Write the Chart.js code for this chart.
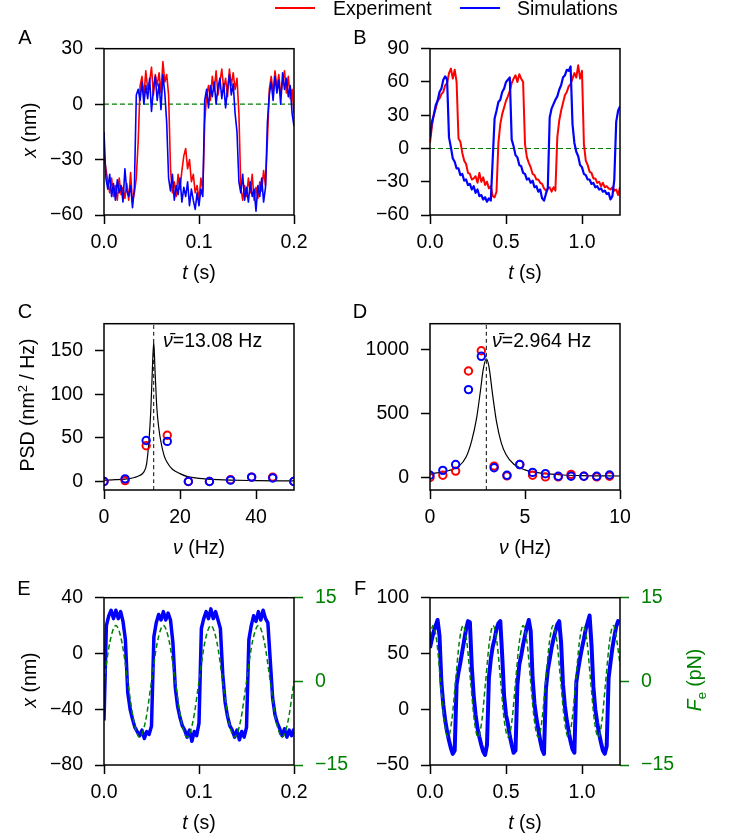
<!DOCTYPE html>
<html>
<head>
<meta charset="utf-8">
<script src="https://cdn.jsdelivr.net/npm/chart.js@4.4.1/dist/chart.umd.min.js"></script>
<style>
body { margin: 0; background: #fff; }
#page { position: relative; width: 732px; height: 840px; overflow: hidden; font-family: 'Liberation Sans', Arial, sans-serif; color: #000; }
canvas { position: absolute; }
.t { position: absolute; font-size: 19.5px; line-height: 1; white-space: nowrap; z-index: 2; }
.c { transform: translate(-50%, -50%); }
.l { transform: translate(0, -50%); }
.r { transform: translate(-50%, -50%) rotate(-90deg); }
.p { font-size: 20px; }
.g { color: #008000; }
sup, sub { font-size: 13px; line-height: 0; }
.key { position: absolute; width: 40px; height: 1.5px; }
</style>
</head>
<body>
<div id="page">
  <canvas id="A" width="354" height="240" style="left:0px;top:25px"></canvas>
  <canvas id="B" width="354" height="240" style="left:326px;top:25px"></canvas>
  <canvas id="C" width="354" height="240" style="left:0px;top:300px"></canvas>
  <canvas id="D" width="354" height="240" style="left:326px;top:300px"></canvas>
  <canvas id="E" width="354" height="241" style="left:0px;top:574px"></canvas>
  <canvas id="F" width="354" height="241" style="left:326px;top:574px"></canvas>

  <div class="key" style="left:275px;top:7px;background:#ff0000"></div>
  <div class="t l" style="left:333px;top:8.5px">Experiment</div>
  <div class="key" style="left:460px;top:7px;background:#0000ff"></div>
  <div class="t l" style="left:517px;top:8.5px">Simulations</div>

  <div class="t c p" style="left:25px;top:37px">A</div>
  <div class="t c p" style="left:360px;top:37px">B</div>
  <div class="t c p" style="left:25px;top:311px">C</div>
  <div class="t c p" style="left:360px;top:311px">D</div>
  <div class="t c p" style="left:24px;top:588px">E</div>
  <div class="t c p" style="left:360px;top:588px">F</div>

  <div class="t r" style="left:30px;top:130px"><i>x</i> (nm)</div>
  <div class="t c" style="left:199px;top:273px"><i>t</i> (s)</div>
  <div class="t c" style="left:525px;top:273px"><i>t</i> (s)</div>
  <div class="t r" style="left:28px;top:405px">PSD (nm<sup>2</sup> / Hz)</div>
  <div class="t c" style="left:199px;top:548px"><i>ν</i> (Hz)</div>
  <div class="t c" style="left:525px;top:548px"><i>ν</i> (Hz)</div>
  <div class="t r" style="left:30px;top:680px"><i>x</i> (nm)</div>
  <div class="t c" style="left:199px;top:823px"><i>t</i> (s)</div>
  <div class="t c" style="left:525px;top:823px"><i>t</i> (s)</div>
  <div class="t r g" style="left:695px;top:680px"><i>F</i><sub>e</sub> (pN)</div>

  <div class="t l" style="left:163px;top:341px"><i>ν̄</i>=13.08 Hz</div>
  <div class="t l" style="left:492px;top:341px"><i>ν̄</i>=2.964 Hz</div>
</div>
<script>
// panel A: bistable trace, sampled every 2 ms
const aStep = 0.002;
const aExp = [
  -28, -35, -42, -48, -40, -50, -44, -52, -40, -49,
  -45, -51, -43, -52, -37, -53, -48, -40, -20, 10,
  15, 4, 18, 8, 12, 20, 5, 16, 10, 17,
  6, 23, 12, 16, 5, -35, -48, -42, -50, -38,
  -46, -36, -28, -24, -35, -30, -42, -38, -48, -44,
  -52, -40, -47, -10, 5, 10, 2, 15, 7, 18,
  5, 12, 19, 8, 14, 4, 19, 10, 17, 8,
  14, -5, -45, -52, -44, -50, -40, -48, -38, -52,
  -45, -51, -42, -47, -36, -44, -20, 8, 15, 6,
  18, 9, 16, 5, 12, 18, 6, 15, 3, 8,
  -5
];
const aSim = [
  -15, -40, -46, -38, -50, -43, -52, -41, -48, -44,
  -53, -35, -47, -50, -44, -56, -45, 5, 8, 2,
  12, 0, 10, 3, 14, -4, 8, 15, 2, 11,
  -3, 16, 6, -10, -40, -47, -38, -52, -44, -49,
  -40, -53, -45, -50, -42, -55, -46, -52, -57, -48,
  -55, -46, -50, 2, 8, -2, 10, 4, 12, 0,
  9, 14, 3, 11, -2, 8, 16, 5, 11, -5,
  -15, -42, -48, -38, -52, -45, -53, -42, -50, -46,
  -58, -44, -50, -40, -53, -45, -10, 5, 12, 2,
  15, 6, 13, 0, 17, 8, 14, 4, 10, -5,
  -12
];

// panel B: relaxation oscillation, sampled every 12.5 ms
const bStep = 0.0125;
const bExp = [
  5, 20, 31, 36, 43, 45, 49, 51, 57, 59,
  68, 72, 63, 71, 60, 9, 6, -4, -11, -14,
  -22, -23, -28, -27, -25, -31, -22, -30, -26, -33,
  -30, -36, -34, -43, -44, -39, 5, 22, 31, 37,
  43, 47, 52, 59, 63, 66, 60, 67, 63, 60,
  4, -8, -13, -17, -23, -24, -28, -28, -31, -32,
  -36, -38, -36, -35, -39, -35, -38, 10, 25, 34,
  41, 48, 51, 56, 58, 63, 68, 64, 75, 63,
  70, 4, -11, -15, -21, -22, -27, -27, -31, -30,
  -34, -31, -35, -34, -36, -37, -35, -38, -37, -42,
  -35
];
const bSim = [
  10, 24, 30, 39, 43, 51, 54, 62, 65, 62,
  10, 1, -9, -12, -18, -18, -24, -23, -29, -28,
  -33, -32, -37, -34, -40, -37, -43, -42, -46, -44,
  -48, -45, -47, -10, 27, 34, 42, 44, 51, 54,
  60, 62, 64, 8, 2, -6, -8, -15, -16, -22,
  -23, -28, -27, -31, -29, -35, -34, -39, -37, -45,
  -47, -41, -36, 28, 36, 40, 44, 47, 53, 57,
  64, 66, 71, 70, 74, 22, 5, -3, -7, -15,
  -17, -23, -24, -28, -28, -32, -31, -35, -34, -37,
  -36, -39, -38, -41, -40, -46, -43, -28, 24, 34,
  38
];

// panel C: spectrum of A
const cFreq = [0, 5.55, 11.1, 16.65, 22.2, 27.75, 33.3, 38.85, 44.4, 49.95];
const cExp = [0, 1, 41, 53, 0, 0, 2, 5, 5, 0];
const cSim = [0, 3, 47, 46, 0, 0, 1.5, 5, 4, 0];
const cFitX = [0, 3, 6, 8, 9.5, 10.5, 11.2, 11.8, 12.3, 12.7, 13.08, 13.45, 13.9, 14.4, 15, 15.8, 16.6, 18, 20, 22, 25, 30, 40, 50];
const cFitY = [1.5, 2, 3, 4.5, 7, 11, 20, 45, 80, 125, 160, 125, 85, 62, 45, 30, 22, 14, 9, 5.5, 3.5, 2, 1, 0.6];
const cPeak = 13.08;

// panel D: spectrum of B
const dFreq = [0, 0.675, 1.35, 2.025, 2.7, 3.375, 4.05, 4.725, 5.4, 6.075, 6.75, 7.425, 8.1, 8.775, 9.45];
const dExp = [0, 18, 50, 830, 987, 89, 13, 101, 18, 5, 5, 25, 10, 5, 10];
const dSim = [18, 56, 101, 685, 944, 76, 18, 101, 40, 30, 10, 10, 10, 10, 20];
const dFitX = [0, 0.5, 1, 1.5, 1.9, 2.2, 2.45, 2.65, 2.8, 2.964, 3.1, 3.3, 3.5, 3.75, 4.0, 4.4, 5, 6, 7, 8, 10];
const dFitY = [30, 38, 55, 85, 160, 290, 460, 670, 840, 925, 865, 640, 435, 270, 180, 105, 60, 32, 20, 15, 12];
const dPeak = 2.964;

// panel E: driven trace (2.5 ms) and drive force (6.25 ms)
const eStep = 0.0025;
const eSim = [
  -48, 20, 27, 31, 25, 31, 25, 30, 23, 10,
  -28, -40, -47, -53, -56, -59, -55, -61, -56, -58,
  -52, 12, 22, 28, 24, 30, 24, 29, 24, 8,
  -24, -38, -46, -52, -55, -60, -55, -63, -56, -59,
  -50, 18, 25, 30, 25, 32, 25, 30, 24, 18,
  -15, -35, -45, -52, -55, -60, -55, -62, -56, -60,
  -53, 10, 20, 27, 23, 30, 24, 31, 25, 22,
  -5, -32, -44, -50, -54, -59, -54, -60, -55, -59,
  -54
];
const eForceStep = 0.00625;
const eForce = [
  0, 7.1, 10, 7.1, 0, -7.1, -10, -7.1,
  0, 7.1, 10, 7.1, 0, -7.1, -10, -7.1,
  0, 7.1, 10, 7.1, 0, -7.1, -10, -7.1,
  0, 7.1, 10, 7.1, 0, -7.1, -10, -7.1,
  0
];

// panel F: driven trace (12.5 ms) and drive force
const fStep = 0.0125;
const fSim = [
  55, 63, 70, 75, 80, 66, 24, 4, -10, -20,
  -28, -35, -40, -37, 22, 33, 42, 52, 62, 72,
  79, 78, 38, 12, -5, -17, -25, -32, -38, -41,
  -32, 28, 45, 56, 63, 72, 77, 79, 48, 12,
  -5, -13, -24, -32, -39, -37, 22, 40, 48, 58,
  66, 74, 80, 70, 28, 5, -8, -18, -28, -36,
  -40, 18, 35, 45, 55, 63, 70, 76, 79, 60,
  22, 3, -10, -20, -29, -36, -39, 24, 36, 46,
  55, 63, 72, 78, 84, 58, 20, 0, -12, -22,
  -30, -37, -40, -33, 28, 42, 55, 65, 74, 79,
  78
];
const fForceT = [
  0, 0.020, 0.045, 0.069, 0.094, 0.119, 0.143, 0.168, 0.193, 0.218,
  0.242, 0.267, 0.292, 0.316, 0.341, 0.366, 0.391, 0.415, 0.440, 0.465,
  0.489, 0.514, 0.539, 0.563, 0.588, 0.613, 0.638, 0.662, 0.687, 0.712,
  0.736, 0.761, 0.786, 0.810, 0.835, 0.860, 0.885, 0.909, 0.934, 0.959,
  0.983, 1.008, 1.033, 1.057, 1.082, 1.107, 1.131, 1.156, 1.181, 1.206,
  1.230, 1.250
];
const fForce = [
  8, 10, 7.1, 0, -7.1, -10, -7.1, 0, 7.1, 10,
  7.1, 0, -7.1, -10, -7.1, 0, 7.1, 10, 7.1, 0,
  -7.1, -10, -7.1, 0, 7.1, 10, 7.1, 0, -7.1, -10,
  -7.1, 0, 7.1, 10, 7.1, 0, -7.1, -10, -7.1, 0,
  7.1, 10, 7.1, 0, -7.1, -10, -7.1, 0, 7.1, 10,
  7.1, 3
];

// tick positions
const ticksT1 = [0, 0.1, 0.2];
const ticksT2 = [0, 0.5, 1.0];
const ticksAY = [-60, -30, 0, 30];
const ticksBY = [-60, -30, 0, 30, 60, 90];
const ticksCX = [0, 20, 40];
const ticksCY = [0, 50, 100, 150];
const ticksDX = [0, 5, 10];
const ticksDY = [0, 500, 1000];
const ticksEY = [-80, -40, 0, 40];
const ticksFY = [-50, 0, 50, 100];
const ticksForce = [-15, 0, 15];

const RED = '#ff0000';
const BLUE = '#0000ff';
const GREEN = '#008000';

Chart.defaults.font.family = "'Liberation Sans', Arial, sans-serif";
Chart.defaults.font.size = 19.5;
Chart.defaults.color = '#000';
Chart.defaults.animation = false;
Chart.defaults.events = [];
Chart.defaults.plugins.legend.display = false;
Chart.defaults.plugins.tooltip.enabled = false;

// black box round the plot area, like matplotlib spines
const frame = {
  id: 'frame',
  afterDraw(chart) {
    const a = chart.chartArea, ctx = chart.ctx;
    ctx.save();
    ctx.strokeStyle = '#000';
    ctx.lineWidth = 1.5;
    ctx.strokeRect(a.left, a.top, a.right - a.left, a.bottom - a.top);
    ctx.restore();
  }
};

function fmt(v, digits) {
  const s = Math.abs(v).toFixed(digits);
  return v < 0 ? '\u2212' + s : s;
}

function axis(pos, min, max, ticks, digits, size, color) {
  const horiz = pos === 'bottom';
  return {
    type: 'linear',
    position: pos,
    min: min,
    max: max,
    afterBuildTicks: s => { s.ticks = ticks.map(v => ({ value: v })); },
    afterFit: s => { if (horiz) s.height = size; else s.width = size; },
    grid: { drawOnChartArea: false, tickLength: 9, tickWidth: 1.5, tickColor: color || '#000' },
    border: { display: false },
    ticks: {
      color: color || '#000',
      padding: horiz ? 7 : 12,
      autoSkip: false,
      maxRotation: 0,
      callback: v => fmt(v, digits)
    }
  };
}

function trace(ys, step, color, width) {
  return {
    data: ys.map((y, i) => ({ x: i * step, y: y })),
    showLine: true, pointRadius: 0, borderColor: color, borderWidth: width,
    borderJoinStyle: 'round', fill: false
  };
}

function curve(xs, ys, color, width, dash) {
  return {
    data: xs.map((x, i) => ({ x: x, y: ys[i] })),
    showLine: true, pointRadius: 0, borderColor: color, borderWidth: width,
    borderDash: dash || [], cubicInterpolationMode: 'monotone', fill: false
  };
}

function rings(xs, ys, color) {
  return {
    data: xs.map((x, i) => ({ x: x, y: ys[i] })),
    showLine: false, pointRadius: 3.7, borderWidth: 2,
    borderColor: color, backgroundColor: 'rgba(0,0,0,0)'
  };
}

function panel(id, datasets, x, y, y2) {
  const scales = { x: x, y: y };
  if (y2) scales.y2 = y2;
  return new Chart(document.getElementById(id), {
    type: 'scatter',
    data: { datasets: datasets },
    options: {
      responsive: false,
      layout: { padding: { top: 20, right: y2 ? 0 : 60, left: 0, bottom: 0 } },
      scales: scales
    },
    plugins: [frame]
  });
}

// datasets listed top layer first
panel('A', [
  trace(aSim, aStep, BLUE, 1.6),
  trace(aExp, aStep, RED, 1.6),
  curve([0, 0.2], [0, 0], GREEN, 1.2, [5, 3])
], axis('bottom', 0, 0.2, ticksT1, 1, 50), axis('left', -60, 30, ticksAY, 0, 104));

panel('B', [
  trace(bSim, bStep, BLUE, 2.2),
  trace(bExp, bStep, RED, 2),
  curve([0, 1.25], [0, 0], GREEN, 1.2, [5, 3])
], axis('bottom', 0, 1.25, ticksT2, 1, 50), axis('left', -60, 90, ticksBY, 0, 104));

panel('C', [
  rings(cFreq, cSim, BLUE),
  rings(cFreq, cExp, RED),
  curve(cFitX, cFitY, '#000', 1.2),
  curve([cPeak, cPeak], [-9.8, 181.1], '#000', 1, [4, 3])
], axis('bottom', 0, 50, ticksCX, 0, 50), axis('left', -9.8, 181.1, ticksCY, 0, 104));

panel('D', [
  rings(dFreq, dSim, BLUE),
  rings(dFreq, dExp, RED),
  curve(dFitX, dFitY, '#000', 1.2),
  curve([dPeak, dPeak], [-97, 1198], '#000', 1, [4, 3])
], axis('bottom', 0, 10, ticksDX, 0, 50), axis('left', -97, 1198, ticksDY, 0, 104));

const eGreen = trace(eForce, eForceStep, GREEN, 1.5);
eGreen.borderDash = [5, 3];
eGreen.cubicInterpolationMode = 'monotone';
eGreen.yAxisID = 'y2';
panel('E', [
  eGreen,
  trace(eSim, eStep, BLUE, 3.5)
], axis('bottom', 0, 0.2, ticksT1, 1, 50), axis('left', -80, 40, ticksEY, 0, 104),
   axis('right', -15, 15, ticksForce, 0, 60, GREEN));

const fGreen = curve(fForceT, fForce, GREEN, 1.5, [5, 3]);
fGreen.yAxisID = 'y2';
panel('F', [
  fGreen,
  trace(fSim, fStep, BLUE, 4)
], axis('bottom', 0, 1.25, ticksT2, 1, 50), axis('left', -50, 100, ticksFY, 0, 104),
   axis('right', -15, 15, ticksForce, 0, 60, GREEN));
</script>
</body>
</html>
